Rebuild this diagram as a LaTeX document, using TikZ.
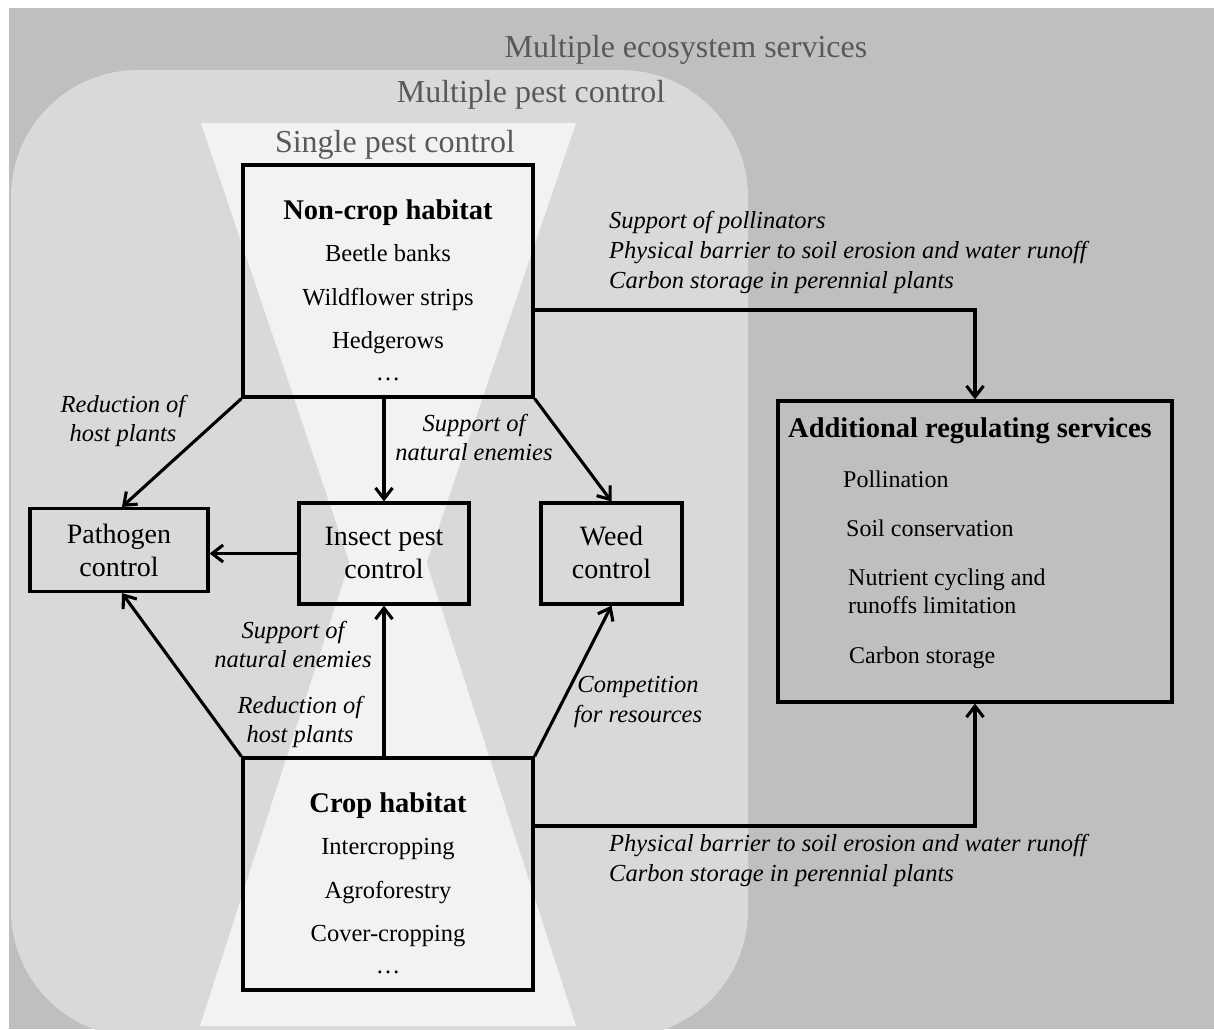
\documentclass[tikz,border=0pt]{standalone}
\usepackage{fontspec}
\setmainfont{Liberation Serif}
\usetikzlibrary{arrows.meta,calc}
\definecolor{outerg}{HTML}{BFBFBF}
\definecolor{innerg}{HTML}{D9D9D9}
\definecolor{hourg}{HTML}{F2F2F2}
\definecolor{titleg}{HTML}{595959}
\begin{document}
\begin{tikzpicture}[x=1pt,y=-1pt,
  box/.style={draw=black, line width=3.2pt, inner sep=0pt},
  arr/.style={draw=black, line width=3.1pt, -{Straight Barb[length=11pt,width=17pt]}},
  ttl/.style={text=titleg, font=\fontsize{32}{38}\selectfont, anchor=base, inner sep=0pt},
  hdr/.style={font=\bfseries\fontsize{28.5}{34}\selectfont, anchor=base, inner sep=0pt},
  itm/.style={font=\fontsize{24.5}{29}\selectfont, anchor=base, inner sep=0pt},
  lbl/.style={font=\fontsize{28}{33}\selectfont, anchor=base, inner sep=0pt},
  ital/.style={font=\itshape\fontsize{24.5}{29}\selectfont, anchor=base, inner sep=0pt},
  itall/.style={ital, anchor=base west},
  svc/.style={font=\fontsize{24}{29}\selectfont, anchor=base west, inner sep=0pt}]

\useasboundingbox (0,0) rectangle (1214,1029);
\fill[white] (0,0) rectangle (1214,1029);
\fill[outerg] (9,8) rectangle (1214,1029);
\begin{scope}
  \clip (9,8) rectangle (1214,1029);
  \fill[innerg, rounded corners=127pt] (11,70) rectangle (748,1037);
\end{scope}
\fill[hourg] (201,123) -- (576,123) -- (388,676) -- cycle;
\fill[hourg] (200,1026) -- (576,1026) -- (388,443) -- cycle;

% titles
\node[ttl] (t1) at (686,57) {Multiple ecosystem services};
\node[ttl] (t2) at (531,102) {Multiple pest control};
\node[ttl] (t3) at (395,152) {Single pest control};

% boxes
\node[box, minimum width=290pt, minimum height=232pt] (noncrop) at (388,281) {};
\node[box, minimum width=178pt, minimum height=83pt] (pathogen) at (119,550) {};
\node[box, minimum width=170pt, minimum height=101pt] (insect) at (384,553.5) {};
\node[box, minimum width=141pt, minimum height=101pt] (weed) at (611.5,553.5) {};
\node[box, minimum width=394pt, minimum height=301pt] (addl) at (975,551.5) {};
\node[box, minimum width=290pt, minimum height=232pt] (crop) at (388,874) {};

% non-crop text
\node[hdr] (nch) at (388,219) {Non-crop habitat};
\node[itm] (bb) at (388,261) {Beetle banks};
\node[itm] (ws) at (388,305) {Wildflower strips};
\node[itm] (hr) at (388,348) {Hedgerows};
\node[itm] (e1) at (388,380) {…};

% crop text
\node[hdr] (ch) at (388,812) {Crop habitat};
\node[itm] (ic) at (388,854) {Intercropping};
\node[itm] (af) at (388,898) {Agroforestry};
\node[itm] (cc) at (388,941) {Cover-cropping};
\node[itm] (e2) at (388,973) {…};

% control boxes text
\node[lbl] (p1) at (119,543) {Pathogen};
\node[lbl] (p2) at (119,576) {control};
\node[lbl] (i1) at (384,545) {Insect pest};
\node[lbl] (i2) at (384,578) {control};
\node[lbl] (w1) at (611.5,545) {Weed};
\node[lbl] (w2) at (611.5,578) {control};

% additional services text
\node[hdr] (ah) at (970,437) {Additional regulating services};
\node[svc] (s1) at (843,487) {Pollination};
\node[svc] (s2) at (846,536) {Soil conservation};
\node[svc] (s3) at (848,585) {Nutrient cycling and};
\node[svc] (s4) at (848,613) {runoffs limitation};
\node[svc] (s5) at (849,663) {Carbon storage};

% arrows
\draw[arr] (noncrop.south west) -- ([xshift=3pt]pathogen.north);
\draw[arr] (insect.north |- noncrop.south) -- (insect.north);
\draw[arr] (noncrop.south east) -- (weed.north);
\draw[arr] (insect.west) -- (pathogen.east |- insect.west);
\draw[arr] (crop.north west) -- ([xshift=3pt]pathogen.south);
\draw[arr] (insect.south |- crop.north) -- (insect.south);
\draw[arr] (crop.north east) -- (weed.south);
\coordinate (c1) at (533,310);
\coordinate (c2) at (533,826);
\draw[arr] (noncrop.east |- c1) -| (addl.north);
\draw[arr] (crop.east |- c2) -| (addl.south);

% italic labels
\node[ital] (l1) at (123,412) {Reduction of};
\node[ital] (l2) at (123,441) {host plants};
\node[ital] (l3) at (474,431) {Support of};
\node[ital] (l4) at (474,460) {natural enemies};
\node[ital] (l5) at (293,638) {Support of};
\node[ital] (l6) at (293,667) {natural enemies};
\node[ital] (l7) at (300,713) {Reduction of};
\node[ital] (l8) at (300,742) {host plants};
\node[ital] (l9) at (638,692) {Competition};
\node[ital] (l10) at (638,722) {for resources};
\node[itall] (r1) at (609,228) {Support of pollinators};
\node[itall] (r2) at (609,258) {Physical barrier to soil erosion and water runoff};
\node[itall] (r3) at (609,288) {Carbon storage in perennial plants};
\node[itall] (r4) at (609,851) {Physical barrier to soil erosion and water runoff};
\node[itall] (r5) at (609,881) {Carbon storage in perennial plants};
\end{tikzpicture}
\end{document}
